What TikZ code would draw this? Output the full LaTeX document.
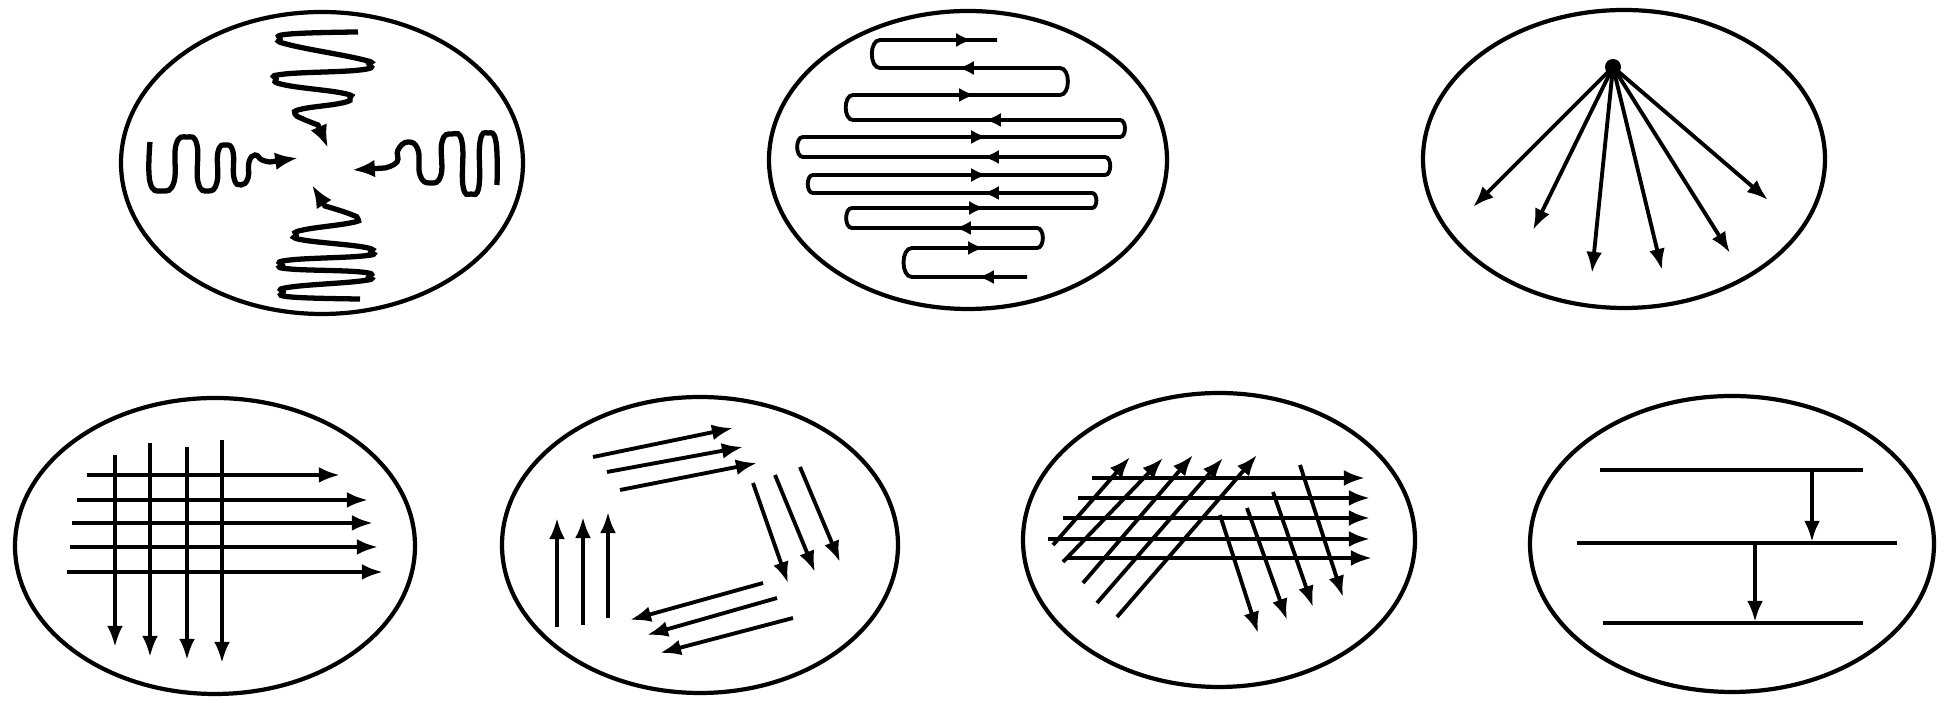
\documentclass[tikz,border=0pt]{standalone}
\usepackage{tikz}
\usetikzlibrary{arrows.meta}

\begin{document}
\begin{tikzpicture}[x=0.1mm,y=-0.1mm,
  ring/.style={line width=1.2pt},
  wire/.style={line width=1.1pt},
  arr/.style={line width=1.1pt,-{Latex[length=6pt,width=4.5pt]}},
  half/.style={line width=1.1pt,-{Latex[length=4.5pt,width=4pt]}},
  wave/.style={line width=1.5pt,-{Latex[length=6.5pt,width=5pt]}}]
\useasboundingbox (0,0) rectangle (1946,702);
\coordinate (c1) at (322,163);
\coordinate (c2) at (968,160);
\coordinate (c3) at (1624,159);
\coordinate (c4) at (215,546);
\coordinate (c5) at (700,545);
\coordinate (c6) at (1219,540);
\coordinate (c7) at (1732,544);
\draw[ring] (c1) ellipse [x radius=20.1mm, y radius=15.1mm];
\draw[ring] (c2) ellipse [x radius=19.9mm, y radius=14.9mm];
\draw[ring] (c3) ellipse [x radius=20.1mm, y radius=14.9mm];
\draw[ring] (c4) ellipse [x radius=20.0mm, y radius=14.8mm];
\draw[ring] (c5) ellipse [x radius=19.8mm, y radius=14.8mm];
\draw[ring] (c6) ellipse [x radius=19.6mm, y radius=14.7mm];
\draw[ring] (c7) ellipse [x radius=20.2mm, y radius=14.8mm];
\draw[wave] plot[smooth,tension=0.8] coordinates {(358,32) (290,34) (280,39) (290,45) (360,59) (369,64) (360,70) (285,74) (276,79) (285,85) (342,93) (350,98) (342,103) (302,109) (295,114) (303,119) (318,125)} -- (328,148);
\draw[wave] plot[smooth,tension=0.8] coordinates {(360,299) (291,297) (283,292) (291,287) (361,281) (369,277) (361,272) (290,269) (282,265) (290,260) (363,256) (371,252) (363,247) (303,240) (296,235) (303,230) (350,223) (358,219) (350,214) (325,206)} -- (312,185);
\draw[wave] plot[smooth,tension=0.8] coordinates {(150,142) (150,182) (162,191) (174,182) (176,145) (187,137) (197,145) (198,182) (208,191) (217,182) (218,152) (226,145) (233,152) (234,178) (241,185) (248,178) (249,162) (255,155) (262,160) (270,162)} -- (298,158);
\draw[wave] plot[smooth,tension=0.8] coordinates {(497,185) (496,142) (488,133) (480,142) (479,186) (471,194) (463,186) (462,142) (452,134) (442,142) (441,175) (430,183) (420,175) (418,150) (408,142) (398,150) (397,162) (385,168)} -- (352,170);
\draw[wire] (997,40) -- (880,40) to[out=180,in=180] (880,68) -- (1060,68) to[out=0,in=0] (1060,95) -- (853,95) to[out=180,in=180] (853,120) -- (1120,120) to[out=0,in=0] (1120,137) -- (803,137) to[out=180,in=180] (803,157) -- (1105,157) to[out=0,in=0] (1105,175) -- (813,175) to[out=180,in=180] (813,193) -- (1092,193) to[out=0,in=0] (1092,208) -- (852,208) to[out=180,in=180] (852,228) -- (1037,228) to[out=0,in=0] (1037,248) -- (912,248) to[out=180,in=180] (912,277) -- (1027,277);
\draw[half] (960,40) -- (972,40);
\draw[half] (970,68) -- (958,68);
\draw[half] (963,95) -- (975,95);
\draw[half] (997,120) -- (985,120);
\draw[half] (975,137) -- (987,137);
\draw[half] (995,157) -- (983,157);
\draw[half] (975,175) -- (987,175);
\draw[half] (995,193) -- (983,193);
\draw[half] (973,208) -- (985,208);
\draw[half] (967,228) -- (955,228);
\draw[half] (972,248) -- (984,248);
\draw[half] (990,277) -- (978,277);
\coordinate (apex) at (1613,67);
\fill (apex) circle [radius=0.8mm];
\draw[arr] (apex) -- (1473,207);
\draw[arr] (apex) -- (1533,230);
\draw[arr] (apex) -- (1592,273);
\draw[arr] (apex) -- (1662,270);
\draw[arr] (apex) -- (1730,253);
\draw[arr] (apex) -- (1768,200);
\draw[arr] (87,475) -- (340,475);
\draw[arr] (77,500) -- (368,500);
\draw[arr] (72,523) -- (373,523);
\draw[arr] (70,547) -- (378,547);
\draw[arr] (67,572) -- (383,572);
\draw[arr] (115,455) -- (115,647);
\draw[arr] (150,443) -- (150,657);
\draw[arr] (187,447) -- (187,660);
\draw[arr] (222,440) -- (222,663);
\draw[arr] (593,457) -- (733,428);
\draw[arr] (607,472) -- (743,447);
\draw[arr] (620,490) -- (757,463);
\draw[arr] (753,483) -- (788,583);
\draw[arr] (775,475) -- (815,572);
\draw[arr] (800,467) -- (840,562);
\draw[arr] (763,583) -- (630,620);
\draw[arr] (777,598) -- (647,635);
\draw[arr] (793,618) -- (660,653);
\draw[arr] (557,627) -- (557,518);
\draw[arr] (583,625) -- (583,517);
\draw[arr] (608,618) -- (608,512);
\draw[arr] (1092,478) -- (1365,478);
\draw[arr] (1078,498) -- (1370,498);
\draw[arr] (1063,518) -- (1370,518);
\draw[arr] (1048,539) -- (1370,539);
\draw[arr] (1067,558) -- (1372,558);
\draw[arr] (1053,545) -- (1130,457);
\draw[arr] (1063,562) -- (1163,458);
\draw[arr] (1083,583) -- (1193,455);
\draw[arr] (1097,603) -- (1223,458);
\draw[arr] (1117,617) -- (1257,455);
\draw[arr] (1220,515) -- (1258,633);
\draw[arr] (1247,508) -- (1287,620);
\draw[arr] (1273,492) -- (1313,607);
\draw[arr] (1300,465) -- (1343,597);
\draw[wire] (1600,470) -- (1863,470);
\draw[wire] (1577,543) -- (1897,543);
\draw[wire] (1603,623) -- (1863,623);
\draw[arr] (1812,470) -- (1812,542);
\draw[arr] (1755,543) -- (1755,622);
\end{tikzpicture}
\end{document}
